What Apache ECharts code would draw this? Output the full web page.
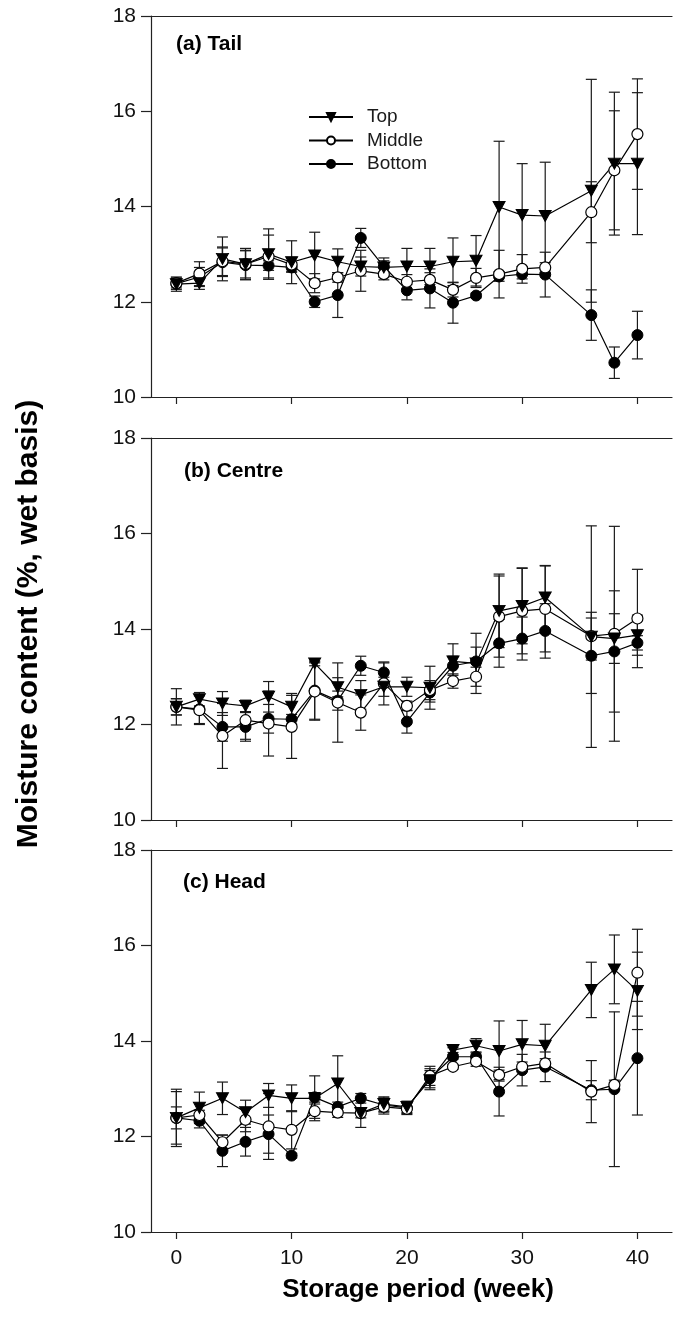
<!DOCTYPE html>
<html><head><meta charset="utf-8">
<script src="https://cdn.jsdelivr.net/npm/echarts@6/dist/echarts.min.js"></script>
<style>html,body{margin:0;padding:0;background:#fff}#c{width:673px;height:1320px}</style>
</head><body><div id="c"></div>
<script>
// Storage weeks (no sample at week 34)
const weeks = [0,2,4,6,8,10,12,14,16,18,20,22,24,26,28,30,32,36,38,40];
const xTicks = [0,10,20,30,40];
const yTicks = [10,12,14,16,18];
const seriesNames = ['Top','Middle','Bottom'];
const panelLabels = ['(a) Tail','(b) Centre','(c) Head'];

// (a) Tail
const tailTop      = [12.37,12.39,12.90,12.79,13.00,12.83,12.97,12.84,12.74,12.72,12.74,12.74,12.84,12.86,13.99,13.82,13.80,14.33,14.90,14.90];
const tailTopErr   = [0.15,0.13,0.46,0.33,0.53,0.45,0.49,0.27,0.20,0.20,0.38,0.38,0.50,0.53,1.38,1.08,1.13,2.34,1.50,1.49];
const tailMid      = [12.39,12.59,12.85,12.79,12.95,12.78,12.39,12.51,12.65,12.58,12.42,12.46,12.25,12.50,12.58,12.69,12.72,13.88,14.76,15.52];
const tailMidErr   = [0.10,0.25,0.30,0.29,0.45,0.15,0.20,0.10,0.43,0.12,0.15,0.15,0.15,0.20,0.50,0.30,0.10,0.64,1.25,1.16];
const tailBot      = [12.38,12.52,12.83,12.77,12.76,12.72,12.00,12.14,13.34,12.74,12.24,12.28,11.98,12.13,12.53,12.58,12.57,11.72,10.72,11.30];
const tailBotErr   = [0.12,0.20,0.30,0.30,0.10,0.10,0.12,0.47,0.20,0.12,0.20,0.41,0.43,0.05,0.10,0.10,0.47,0.53,0.33,0.50];

// (b) Centre
const centreTop    = [12.37,12.53,12.44,12.39,12.58,12.37,13.28,12.78,12.62,12.79,12.79,12.77,13.32,13.28,14.38,14.48,14.66,13.84,13.80,13.87];
const centreTopErr = [0.38,0.14,0.25,0.12,0.32,0.28,0.05,0.20,0.30,0.20,0.20,0.45,0.37,0.63,0.77,0.79,0.67,2.32,0.52,0.42];
const centreMid    = [12.37,12.30,11.76,12.09,12.02,11.95,12.69,12.46,12.25,12.86,12.39,12.72,12.91,13.00,14.26,14.38,14.42,13.85,13.90,14.22];
const centreMidErr = [0.17,0.30,0.68,0.40,0.68,0.66,0.60,0.83,0.37,0.45,0.10,0.20,0.15,0.20,0.85,0.90,0.90,0.50,2.25,1.03];
const centreBot    = [12.37,12.32,11.95,11.95,12.12,12.11,12.71,12.50,13.23,13.09,12.06,12.67,13.23,13.32,13.70,13.80,13.96,13.44,13.53,13.71];
const centreBotErr = [0.17,0.30,0.30,0.30,0.30,0.10,0.60,0.20,0.20,0.20,0.24,0.20,0.20,0.30,0.50,0.45,0.57,0.79,1.27,0.15];

// (c) Head
const headTop      = [12.39,12.60,12.80,12.51,12.86,12.80,12.80,13.11,12.49,12.68,12.62,13.18,13.81,13.90,13.79,13.93,13.90,15.07,15.50,15.05];
const headTopErr   = [0.60,0.33,0.34,0.25,0.25,0.28,0.47,0.58,0.30,0.15,0.12,0.20,0.05,0.15,0.63,0.50,0.45,0.58,0.72,0.81];
const headMid      = [12.39,12.45,11.88,12.35,12.21,12.14,12.53,12.50,12.49,12.62,12.58,13.27,13.46,13.57,13.29,13.46,13.53,12.94,13.08,15.43];
const headMidErr   = [0.23,0.10,0.15,0.25,0.69,0.40,0.15,0.10,0.10,0.15,0.12,0.20,0.05,0.10,0.10,0.10,0.10,0.65,0.10,0.91];
const headBot      = [12.39,12.33,11.70,11.89,12.05,11.60,12.82,12.62,12.80,12.66,12.60,13.22,13.67,13.67,12.94,13.39,13.46,12.97,12.99,13.64];
const headBotErr   = [0.55,0.15,0.33,0.30,0.40,0.05,0.10,0.10,0.10,0.15,0.12,0.20,0.05,0.10,0.51,0.33,0.31,0.20,1.62,1.19];

const FONT = '"Liberation Sans", Arial, sans-serif';
const INK = '#111';
const AX = '#222';

const panels = [
  {label: panelLabels[0], top: 16,  height: 381, lx: 176, ly: 46,
   data: {Top:[tailTop,tailTopErr], Middle:[tailMid,tailMidErr], Bottom:[tailBot,tailBotErr]}},
  {label: panelLabels[1], top: 438, height: 382, lx: 184, ly: 473,
   data: {Top:[centreTop,centreTopErr], Middle:[centreMid,centreMidErr], Bottom:[centreBot,centreBotErr]}},
  {label: panelLabels[2], top: 850, height: 382, lx: 183, ly: 884,
   data: {Top:[headTop,headTopErr], Middle:[headMid,headMidErr], Bottom:[headBot,headBotErr]}}
];

const styles = {
  Top:    {symbol:'triangle', symbolRotate:180, symbolSize:[12,11], itemStyle:{color:'#000', borderColor:'#000', borderWidth:1}},
  Middle: {symbol:'circle', symbolSize:11, itemStyle:{color:'#fff', borderColor:'#000', borderWidth:1.2}},
  Bottom: {symbol:'circle', symbolSize:11, itemStyle:{color:'#000', borderColor:'#000', borderWidth:1}}
};

function errRender(params, api) {
  const x = api.value(0), y = api.value(1), e = api.value(2);
  const hi = api.coord([x, y + e]);
  const lo = api.coord([x, y - e]);
  const cw = 5.5;
  const st = {stroke: '#1a1a1a', lineWidth: 1.2};
  return {type: 'group', children: [
    {type: 'line', shape: {x1: hi[0], y1: hi[1], x2: lo[0], y2: lo[1]}, style: st},
    {type: 'line', shape: {x1: hi[0]-cw, y1: hi[1], x2: hi[0]+cw, y2: hi[1]}, style: st},
    {type: 'line', shape: {x1: lo[0]-cw, y1: lo[1], x2: lo[0]+cw, y2: lo[1]}, style: st}
  ]};
}

const grids = [], xAxes = [], yAxes = [], series = [], graphics = [];
panels.forEach((p, i) => {
  grids.push({left: 151, top: p.top, right: 1, height: p.height, show: false});
  // bottom axis with ticks (labels only on lowest panel)
  xAxes.push({type: 'value', gridIndex: i, min: -2.2, max: 43, position: 'bottom',
    axisLine: {show: true, onZero: false, lineStyle: {color: AX, width: 1.2}},
    axisTick: {show: true, inside: false, length: 7, customValues: xTicks, lineStyle: {color: AX, width: 1.2}},
    axisLabel: {show: i === 2, customValues: xTicks, margin: 16, fontSize: 21, fontFamily: FONT, color: INK},
    splitLine: {show: false}});
  // top frame line
  xAxes.push({type: 'value', gridIndex: i, min: -2.2, max: 43, position: 'top',
    axisLine: {show: true, onZero: false, lineStyle: {color: AX, width: 1.2}},
    axisTick: {show: false}, axisLabel: {show: false}, splitLine: {show: false}});
  yAxes.push({type: 'value', gridIndex: i, min: 10, max: 18, interval: 2,
    axisLine: {show: true, onZero: false, lineStyle: {color: AX, width: 1.2}},
    axisTick: {show: true, inside: false, length: 10, lineStyle: {color: AX, width: 1.2}},
    axisLabel: {show: true, margin: 15, fontSize: 21, fontFamily: FONT, color: INK,
      formatter: v => (yTicks.indexOf(v) >= 0 ? String(v) : '')},
    splitLine: {show: false}});
  const xi = i * 2;
  ['Bottom','Middle','Top'].forEach(name => {
    const vals = p.data[name][0], errs = p.data[name][1];
    series.push({type: 'custom', name: name + ' SD', xAxisIndex: xi, yAxisIndex: i, z: 1,
      renderItem: errRender, encode: {x: 0, y: 1},
      data: weeks.map((w, k) => [w, vals[k], errs[k]]), silent: true});
  });
  ['Bottom','Middle','Top'].forEach(name => {
    const vals = p.data[name][0];
    const s = styles[name];
    series.push({type: 'line', name: name, xAxisIndex: xi, yAxisIndex: i, z: 3,
      symbol: s.symbol, symbolRotate: s.symbolRotate || 0, symbolSize: s.symbolSize,
      showAllSymbol: true, itemStyle: s.itemStyle,
      lineStyle: {color: '#000', width: 1.2},
      data: weeks.map((w, k) => [w, vals[k]])});
  });
  graphics.push({type: 'text', left: p.lx, top: p.ly - 12,
    style: {text: p.label, fontSize: 21, fontWeight: 'bold', fontFamily: FONT, fill: '#000'}});
});

graphics.push({type: 'text', x: 29, y: 624, rotation: Math.PI / 2,
  style: {text: 'Moisture content (%, wet basis)', fontSize: 30, fontWeight: 'bold', fontFamily: FONT,
    fill: '#000', align: 'center', verticalAlign: 'middle'}});
graphics.push({type: 'text', x: 418, y: 1290,
  style: {text: 'Storage period (week)', fontSize: 26, fontWeight: 'bold', fontFamily: FONT,
    fill: '#000', align: 'center', verticalAlign: 'middle'}});

const chart = echarts.init(document.getElementById('c'), null, {renderer: 'canvas'});
chart.setOption({
  backgroundColor: '#fff',
  animation: false,
  grid: grids, xAxis: xAxes, yAxis: yAxes, series: series,
  legend: {data: seriesNames, orient: 'vertical', left: 303, top: 102,
    itemWidth: 44, itemHeight: 10, itemGap: 3.5,
    textStyle: {fontSize: 19, fontFamily: FONT, color: '#1a1a1a', padding: [0, 0, 0, 9], lineHeight: 20},
    selectedMode: false},
  graphic: graphics
});
</script></body></html>
